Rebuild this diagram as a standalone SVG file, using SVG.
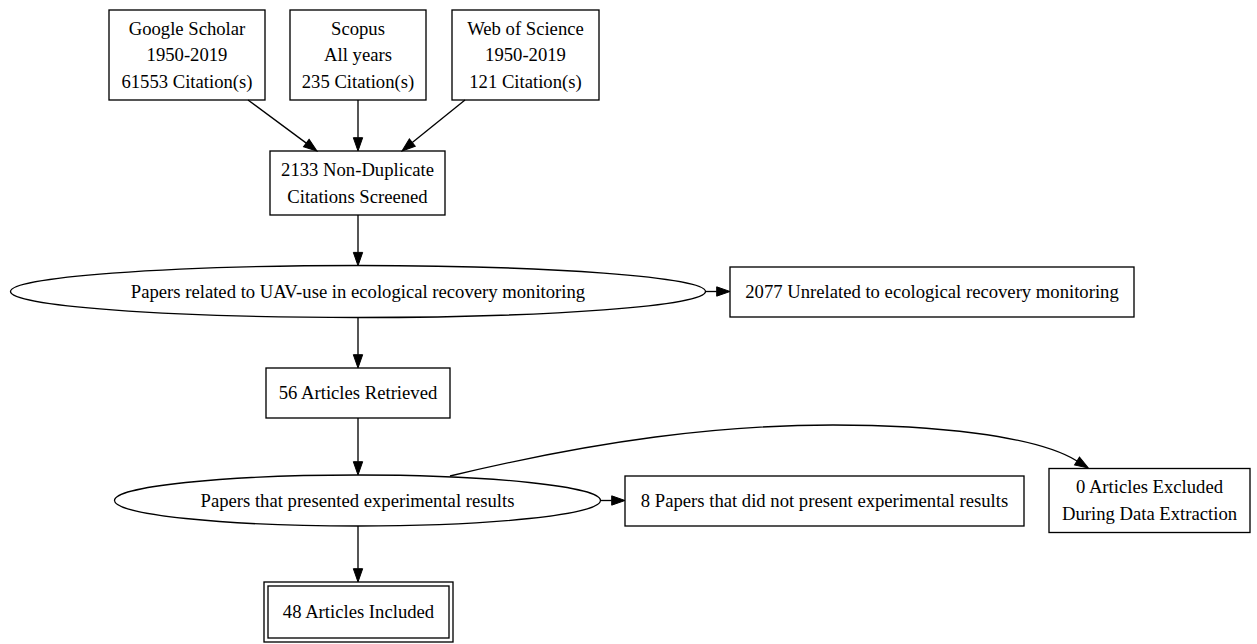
<svg xmlns="http://www.w3.org/2000/svg" width="1257" height="644" viewBox="0 0 1257 644">
<style>
  .box { fill: none; stroke: #000; stroke-width: 1.33; }
  .edge { fill: none; stroke: #000; stroke-width: 1.33; }
  text { font-family: "Liberation Serif", "Times New Roman", serif; font-size: 18.67px; fill: #000; text-anchor: middle; }
</style>
<defs>
  <marker id="arr" markerUnits="userSpaceOnUse" markerWidth="14" markerHeight="10" refX="0" refY="4.67" orient="auto" overflow="visible">
    <path d="M0,0 L13.3,4.67 L0,9.33 Z" fill="#000" stroke="#000" stroke-width="1"/>
  </marker>
</defs>
<rect width="1257" height="644" fill="#fff"/>

<g id="edges">
  <path class="edge" d="M248,100 L306.3,143.1" marker-end="url(#arr)"/>
  <path class="edge" d="M358,100 L358,137.7" marker-end="url(#arr)"/>
  <path class="edge" d="M465,100 L412.3,142.6" marker-end="url(#arr)"/>
  <path class="edge" d="M358,215 L358,252.4" marker-end="url(#arr)"/>
  <path class="edge" d="M705,291.5 L716.7,291.5" marker-end="url(#arr)"/>
  <path class="edge" d="M358,317.5 L358,354.7" marker-end="url(#arr)"/>
  <path class="edge" d="M358,418 L358,461.7" marker-end="url(#arr)"/>
  <path class="edge" d="M600.5,500.5 L611.7,500.5" marker-end="url(#arr)"/>
  <path class="edge" d="M358,526 L358,568.7" marker-end="url(#arr)"/>
  <path class="edge" d="M450,476 C600,440 720,425 833,425 C930,425 1035,435 1077,461" marker-end="url(#arr)"/>
</g>

<g id="google">
  <rect class="box" x="109" y="10" width="156" height="90"/>
  <text x="187" y="34.5">Google Scholar</text>
  <text x="187" y="61.2">1950-2019</text>
  <text x="187" y="88">61553 Citation(s)</text>
</g>
<g id="scopus">
  <rect class="box" x="290" y="10" width="136" height="90"/>
  <text x="358" y="34.5">Scopus</text>
  <text x="358" y="61.2">All years</text>
  <text x="358" y="88">235 Citation(s)</text>
</g>
<g id="wos">
  <rect class="box" x="452" y="10" width="147" height="90"/>
  <text x="525.5" y="34.5">Web of Science</text>
  <text x="525.5" y="61.2">1950-2019</text>
  <text x="525.5" y="88">121 Citation(s)</text>
</g>
<g id="screened">
  <rect class="box" x="270" y="151" width="175" height="64"/>
  <text x="357.5" y="176">2133 Non-Duplicate</text>
  <text x="357.5" y="202.6">Citations Screened</text>
</g>
<g id="related">
  <ellipse class="box" cx="358" cy="291.5" rx="347.5" ry="26"/>
  <text x="358" y="297.8">Papers related to UAV-use in ecological recovery monitoring</text>
</g>
<g id="unrelated">
  <rect class="box" x="730" y="267" width="404" height="50"/>
  <text x="932" y="297.8">2077 Unrelated to ecological recovery monitoring</text>
</g>
<g id="retrieved">
  <rect class="box" x="266" y="368" width="184" height="50"/>
  <text x="358" y="399">56 Articles Retrieved</text>
</g>
<g id="experimental">
  <ellipse class="box" cx="357.5" cy="500.5" rx="243" ry="25.5"/>
  <text x="357.5" y="506.8">Papers that presented experimental results</text>
</g>
<g id="notexperimental">
  <rect class="box" x="625" y="476" width="399" height="50"/>
  <text x="824.5" y="506.5">8 Papers that did not present experimental results</text>
</g>
<g id="excluded">
  <rect class="box" x="1049" y="468.5" width="201" height="64"/>
  <text x="1149.5" y="493">0 Articles Excluded</text>
  <text x="1149.5" y="519.6">During Data Extraction</text>
</g>
<g id="included">
  <rect class="box" x="264" y="582" width="189" height="60"/>
  <rect class="box" x="268" y="586" width="181" height="52"/>
  <text x="358.5" y="618">48 Articles Included</text>
</g>
</svg>
